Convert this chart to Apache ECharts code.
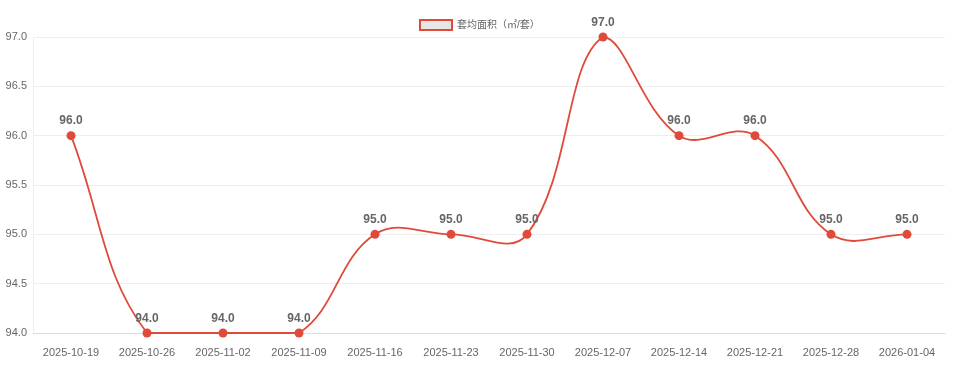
<!DOCTYPE html>
<html><head><meta charset="utf-8">
<script src="https://cdn.jsdelivr.net/npm/echarts@6/dist/echarts.min.js"></script>
<style>html,body{margin:0;padding:0;background:#fff}#c{width:960px;height:377px}</style>
</head><body><div id="c"></div>
<script>
const categories = ['2025-10-19','2025-10-26','2025-11-02','2025-11-09','2025-11-16','2025-11-23','2025-11-30','2025-12-07','2025-12-14','2025-12-21','2025-12-28','2026-01-04'];
const avgArea = [96.0, 94.0, 94.0, 94.0, 95.0, 95.0, 95.0, 97.0, 96.0, 96.0, 95.0, 95.0];
const seriesName = '套均面积（㎡/套）';
const lineColor = '#e04a3a';
const tension = 0.4;

function splinePath(pts, yTop, yBottom) {
  const n = pts.length;
  const clampY = y => Math.max(yTop, Math.min(yBottom, y));
  const cps = pts.map((p, i) => {
    const prev = pts[Math.max(0, i - 1)], next = pts[Math.min(n - 1, i + 1)];
    const d01 = Math.hypot(p[0] - prev[0], p[1] - prev[1]);
    const d12 = Math.hypot(next[0] - p[0], next[1] - p[1]);
    let s01 = d01 / (d01 + d12), s12 = d12 / (d01 + d12);
    if (!isFinite(s01)) s01 = 0; if (!isFinite(s12)) s12 = 0;
    const fa = tension * s01, fb = tension * s12;
    return {
      px: p[0] - fa * (next[0] - prev[0]), py: clampY(p[1] - fa * (next[1] - prev[1])),
      nx: p[0] + fb * (next[0] - prev[0]), ny: clampY(p[1] + fb * (next[1] - prev[1]))
    };
  });
  let d = 'M' + pts[0][0] + ' ' + pts[0][1];
  for (let i = 1; i < n; i++) {
    d += ' C' + cps[i - 1].nx + ' ' + cps[i - 1].ny + ' ' + cps[i].px + ' ' + cps[i].py + ' ' + pts[i][0] + ' ' + pts[i][1];
  }
  return d;
}

const chart = echarts.init(document.getElementById('c'));
chart.setOption({
  animation: false,
  textStyle: {fontFamily: 'Arial, "Liberation Sans", "Noto Sans CJK SC", sans-serif'},
  legend: {
    top: 14, left: 414, itemWidth: 32, itemHeight: 10, itemGap: 6,
    textStyle: {color: '#666', fontSize: 10},
    data: [{name: seriesName, icon: 'rect', itemStyle: {color: '#e6e6e6', borderColor: lineColor, borderWidth: 2}}]
  },
  grid: {left: 33, right: 15, top: 37, bottom: 44, containLabel: false},
  xAxis: {
    type: 'category', data: categories, boundaryGap: true,
    axisLine: {lineStyle: {color: '#ddd'}},
    axisTick: {show: false},
    axisLabel: {color: '#666', fontSize: 11, margin: 14, interval: 0}
  },
  yAxis: {
    type: 'value', min: 94, max: 97, interval: 0.5,
    axisLine: {show: true, lineStyle: {color: '#eee'}},
    axisTick: {show: false},
    axisLabel: {color: '#666', fontSize: 11, margin: 6, formatter: v => v.toFixed(1)},
    splitLine: {lineStyle: {color: '#eee'}}
  },
  series: [{
    name: 'curve', type: 'custom', z: 1, silent: true, clip: false,
    data: avgArea.map((v, i) => [i, v]),
    renderItem: function (params, api) {
      if (params.dataIndex !== 0) return null;
      const pts = avgArea.map((v, i) => api.coord([i, v]));
      const yTop = api.coord([0, 97])[1], yBottom = api.coord([0, 94])[1];
      return {type: 'path', shape: {pathData: splinePath(pts, yTop, yBottom)}, style: {fill: 'none', stroke: lineColor, lineWidth: 1.8}};
    }
  }, {
    name: seriesName, type: 'line', z: 3, data: avgArea,
    symbol: 'circle', symbolSize: 9,
    lineStyle: {color: lineColor, width: 0, opacity: 0},
    itemStyle: {color: lineColor},
    label: {show: true, position: 'top', distance: 4, color: '#666', fontWeight: 'bold', fontSize: 12, formatter: p => p.value.toFixed(1)}
  }]
});
</script></body></html>
